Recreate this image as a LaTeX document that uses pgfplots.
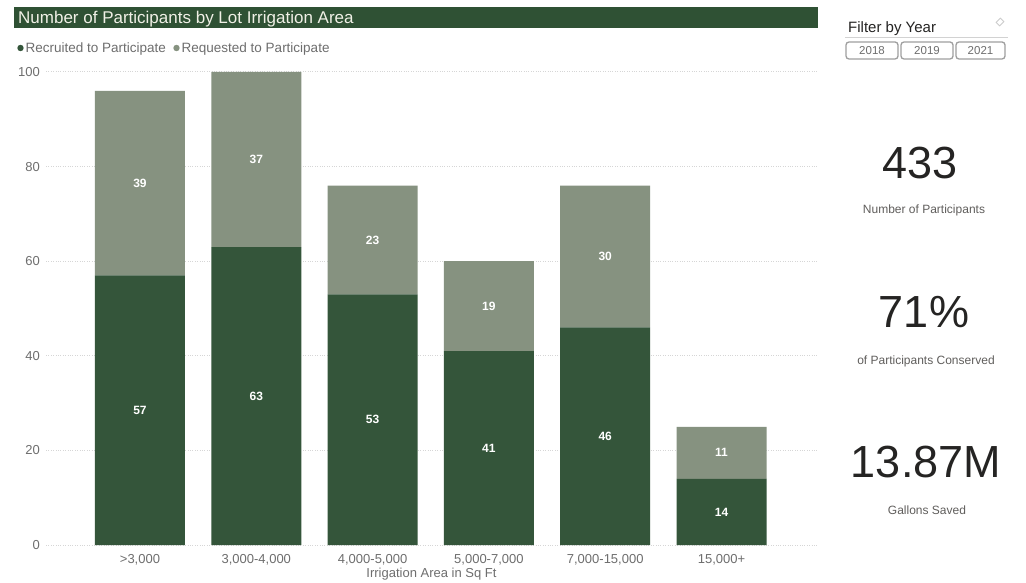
\documentclass[border=0pt]{standalone}
\usepackage{fontspec}
\setmainfont{Liberation Sans}
\usepackage{pgfplots}
\pgfplotsset{compat=1.18}
\definecolor{dkg}{HTML}{34553A}
\definecolor{ltg}{HTML}{869280}
\definecolor{titlebg}{HTML}{2F5134}
\definecolor{titletxt}{HTML}{F0F0E6}
\definecolor{txtgrey}{HTML}{6E6E6E}
\definecolor{kpi}{HTML}{252423}
\definecolor{kpisub}{HTML}{605E5C}
\definecolor{gridc}{HTML}{D6D6D6}
\newcommand{\fs}[1]{\fontsize{#1}{#1}\selectfont}
\begin{document}
\begin{tikzpicture}[x=1pt,y=1pt]
\useasboundingbox (0pt,0pt) rectangle (1026pt,-583pt);
\fill[white] (0pt,0pt) rectangle (1026pt,-583pt);
% title bar
\fill[titlebg] (14pt,-7pt) rectangle (818pt,-28pt);
\node[anchor=base west, text=titletxt, font=\fs{17}, inner sep=0] at (18pt,-23.5pt) {Number of Participants by Lot Irrigation Area};
% legend
\fill[dkg] (20.5pt,-48pt) circle (3.2pt);
\node[anchor=base west, text=txtgrey, font=\fs{13.5}, inner sep=0] at (25.5pt,-52.8pt) {Recruited to Participate};
\fill[ltg] (176.5pt,-48pt) circle (3.2pt);
\node[anchor=base west, text=txtgrey, font=\fs{13.5}, inner sep=0] at (181.5pt,-52.8pt) {Requested to Participate};

\begin{axis}[
  at={(46pt,-545pt)}, anchor=south west,
  scale only axis, width=771pt, height=473pt,
  ybar stacked, bar width=90pt,
  xmin=-0.808, xmax=5.821, ymin=0, ymax=100,
  axis lines=left, axis line style={draw=none},
  major tick length=0pt,
  ytick={0,20,40,60,80,100},
  xtick={0,1,2,3,4,5},
  xticklabels={{>3,000},{3,000-4,000},{4,000-5,000},{5,000-7,000},{7,000-15,000},{15,000+}},
  ymajorgrids, grid style={dotted, color=gridc, line width=1pt},
  /pgf/number format/assume math mode=true,
  tick label style={font=\fs{13}, text=txtgrey},
  xticklabel style={anchor=base, inner sep=0pt, yshift=-18.6pt},
  yticklabel style={anchor=east, inner sep=0pt, xshift=-6pt},
  xlabel={Irrigation Area in Sq Ft},
  xlabel style={at={(axis description cs:0.5,0)}, anchor=base, yshift=-32.6pt, font=\fs{13}, text=txtgrey, inner sep=0pt},
  point meta=explicit,
  nodes near coords,
  visualization depends on=rawy \as \rawy,
  every node near coord/.append style={anchor=center, text=white, font=\fs{12}\bfseries, shift={(axis direction cs:0,0)}},
]
\addplot[fill=dkg, draw=none] coordinates {(0,57)[57] (1,63)[63] (2,53)[53] (3,41)[41] (4,46)[46] (5,14)[14]};
\addplot[fill=ltg, draw=none] coordinates {(0,39)[39] (1,37)[37] (2,23)[23] (3,19)[19] (4,30)[30] (5,11)[11]};
\end{axis}

% filter pane
\node[anchor=base west, text=kpi, font=\fs{15}, inner sep=0] at (848pt,-32.5pt) {Filter by Year};
\draw[gray!35, line width=0.8pt] (845pt,-37pt) -- (1008pt,-37pt);
\draw[gray!40, line width=0.8pt, rotate around={45:(1000pt,-22pt)}] (997pt,-24.5pt) rectangle (1003pt,-19.5pt);
\foreach \xa/\xb/\yr in {846/898/2018, 901/953/2019, 956/1005/2021}{
  \draw[rounded corners=3pt, gray!75, line width=1.3pt] (\xa pt,-42pt) rectangle (\xb pt,-59pt);
  \node[text=txtgrey, font=\fs{11.5}, inner sep=0] at ({(\xa+\xb)/2*1pt},-50.5pt) {\yr};
}
% KPI cards
\node[text=kpi, font=\fs{45}, inner sep=0] at (920pt,-163pt) {433};
\node[anchor=base, text=kpisub, font=\fs{12}, inner sep=0] at (924pt,-213.5pt) {Number of Participants};
\node[text=kpi, font=\fs{45}, inner sep=0] at (924pt,-312.5pt) {71\%};
\node[anchor=base, text=kpisub, font=\fs{12}, inner sep=0] at (926pt,-364.5pt) {of Participants Conserved};
\node[text=kpi, font=\fs{45}, inner sep=0] at (926pt,-462.5pt) {13.87M};
\node[anchor=base, text=kpisub, font=\fs{12}, inner sep=0] at (927pt,-514.5pt) {Gallons Saved};
\end{tikzpicture}
\end{document}
